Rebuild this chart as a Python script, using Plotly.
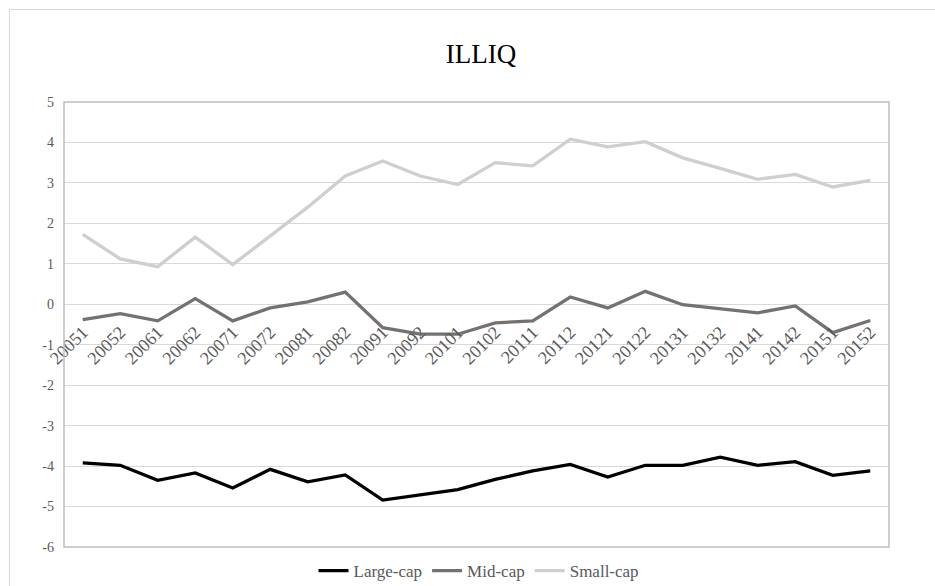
import plotly.graph_objects as go

categories = ["20051", "20052", "20061", "20062", "20071", "20072", "20081", "20082",
              "20091", "20092", "20101", "20102", "20111", "20112", "20121", "20122",
              "20131", "20132", "20141", "20142", "20151", "20152"]

large_cap = [-3.92, -3.98, -4.35, -4.17, -4.54, -4.08, -4.39, -4.22, -4.84, -4.70, -4.58,
             -4.33, -4.12, -3.96, -4.27, -3.98, -3.98, -3.78, -3.98, -3.89, -4.23, -4.12]
mid_cap = [-0.38, -0.23, -0.41, 0.14, -0.41, -0.09, 0.06, 0.30, -0.58, -0.74, -0.74,
           -0.46, -0.41, 0.18, -0.09, 0.32, -0.01, -0.11, -0.21, -0.04, -0.70, -0.40]
small_cap = [1.73, 1.12, 0.93, 1.66, 0.98, 1.69, 2.40, 3.17, 3.54, 3.17, 2.96,
             3.50, 3.42, 4.08, 3.89, 4.02, 3.62, 3.36, 3.09, 3.21, 2.90, 3.06]

y_ticks = [-6, -5, -4, -3, -2, -1, 0, 1, 2, 3, 4, 5]
y_tick_labels = [str(v) for v in y_ticks]

series = [("Large-cap", large_cap, "#000000"),
          ("Mid-cap", mid_cap, "#767171"),
          ("Small-cap", small_cap, "#d0cece")]

FONT = "Liberation Serif"
fig = go.Figure()
for name, vals, color in series:
    fig.add_trace(go.Scatter(x=categories, y=vals, name=name, mode="lines",
                             line=dict(color=color, width=3.3)))

W, H = 935, 586
L, R, T, B = 64, 889, 102, 547
pw, ph = R - L, B - T

def px(x):
    return (x - L) / pw

def py(y):
    return (B - y) / ph

fig.update_layout(
    width=W, height=H,
    margin=dict(l=L, r=W - R, t=T, b=H - B, autoexpand=False),
    paper_bgcolor="white", plot_bgcolor="white",
    font=dict(family=FONT, color="#595959"),
    title=dict(text="ILLIQ", x=px(481), xref="paper", xanchor="center",
               y=1 - 54 / H, yanchor="middle", yref="container",
               font=dict(family=FONT, size=27, color="#000000")),
    showlegend=True,
    legend=dict(orientation="h", x=px(479), xanchor="center", y=py(571), yanchor="middle",
                font=dict(family=FONT, size=17, color="#595959"), itemwidth=30,
                traceorder="normal", bgcolor="rgba(0,0,0,0)"),
    xaxis=dict(type="category", range=[-0.5, len(categories) - 0.5],
               anchor="free", position=6 / 11, showline=False, showgrid=False,
               zeroline=False, tickangle=-45, ticks="", ticklabelstandoff=13,
               tickfont=dict(family=FONT, size=18, color="#595959")),
    yaxis=dict(range=[-6, 5], tickmode="array", tickvals=y_ticks, ticktext=y_tick_labels,
               showgrid=True, gridcolor="#d9d9d9", gridwidth=1,
               zeroline=False, showline=False, ticks="", ticklabelstandoff=9,
               tickfont=dict(family=FONT, size=14, color="#595959")),
    shapes=[
        dict(type="rect", xref="paper", yref="paper", x0=0, x1=1, y0=0, y1=1,
             line=dict(color="#bfbfbf", width=1.5), layer="above"),
        dict(type="rect", xref="paper", yref="paper", x0=px(9.5), x1=px(960),
             y0=py(620), y1=py(9.5), line=dict(color="#d9d9d9", width=1), layer="below"),
    ],
)

fig.write_html("out.html")
